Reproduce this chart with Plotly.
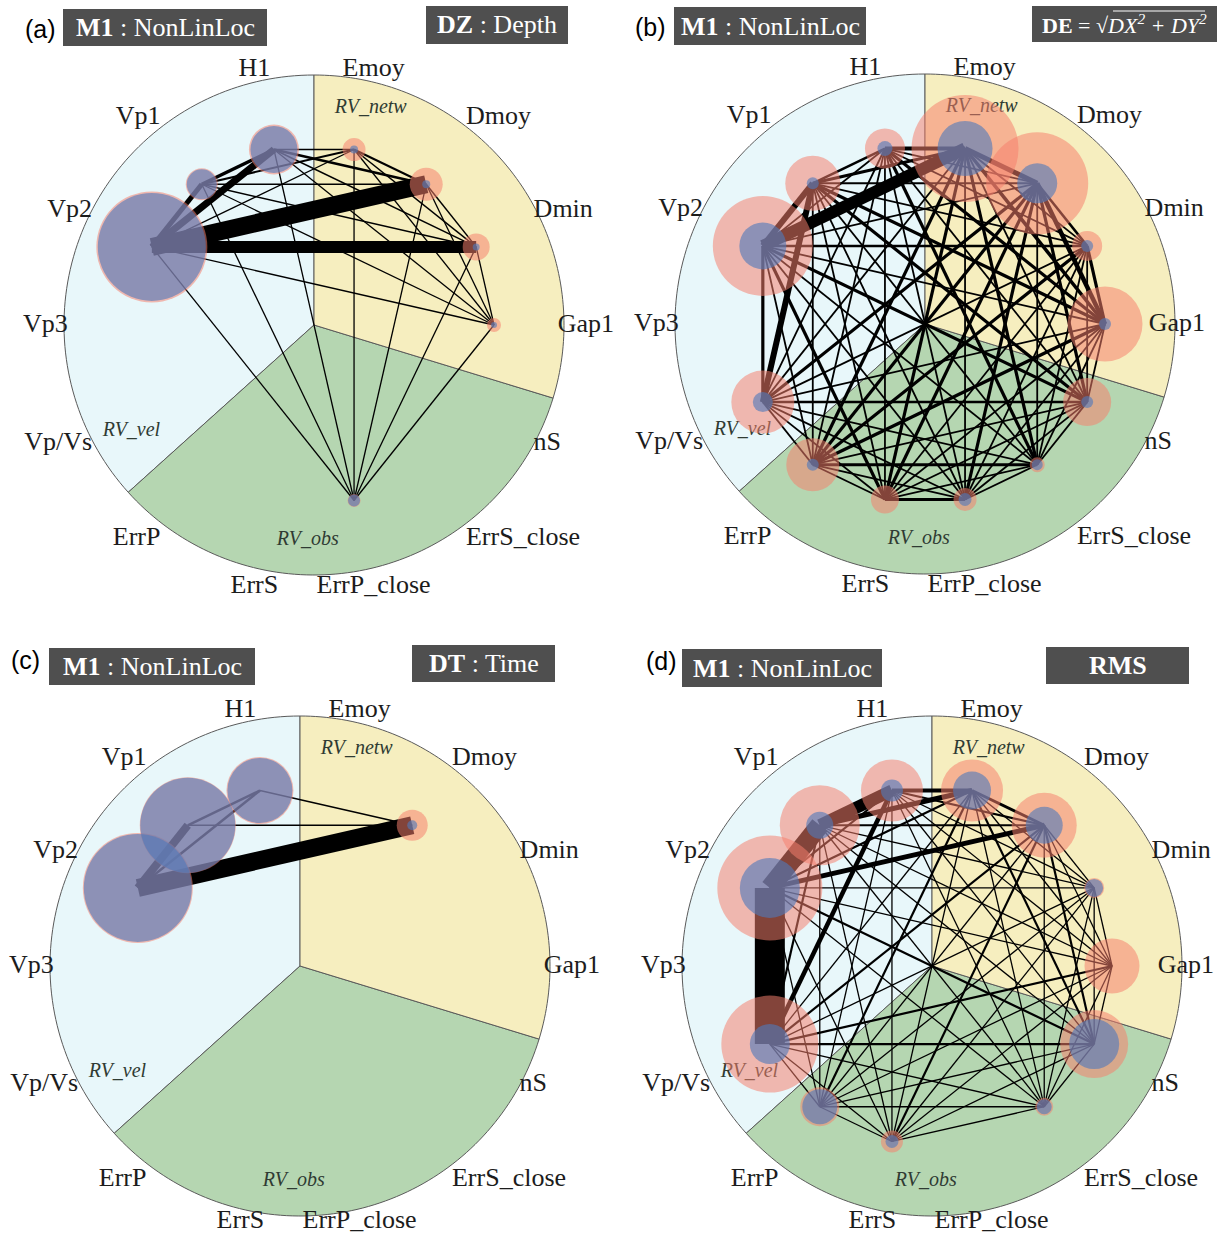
import numpy as np
import plotly.graph_objects as go

W, H = 1229, 1236
S = 250.0          # pixels per unit radius of the big circle
NODE_R = 0.72      # radius (in units) of the node ring

# ---------------- data ----------------
variables = ["H1", "Emoy", "Dmoy", "Dmin", "Gap1", "nS", "ErrS_close",
             "ErrP_close", "ErrS", "ErrP", "Vp/Vs", "Vp3", "Vp2", "Vp1"]
var_group = ["RV_vel", "RV_netw", "RV_netw", "RV_netw", "RV_netw", "RV_obs", "RV_obs",
             "RV_obs", "RV_obs", "RV_obs", "RV_vel", "RV_vel", "RV_vel", "RV_vel"]
groups = ["RV_vel", "RV_obs", "RV_netw"]

model_label = "<b>M1</b> : NonLinLoc"
panel_letters = ["(a)", "(b)", "(c)", "(d)"]
metric_labels = ["<b>DZ</b> : Depth",
                 "<b>DE</b> = √<i>DX<sup>2</sup> + DY<sup>2</sup></i>",
                 "<b>DT</b> : Time",
                 "<b>RMS</b>"]

# node bubble diameters (px), same order as `variables`
#            H1  Emoy Dmoy Dmin Gap1 nS ErrSc ErrPc ErrS ErrP VpVs Vp3 Vp2 Vp1
blue_a = [47,   8,   8,   7,   6,   0,  0,   12,   0,   0,   0,  0, 108, 30]
red_a  = [50,  23,  33,  27,  14,   0,  0,   13,   0,   0,   0,  0, 111, 32]
blue_b = [15,  55,  40,  12,  12,  12, 11,   13,   0,  12,  20,  0,  47, 12]
red_b  = [40, 107, 102,  30,  75,  48, 15,   23,  28,  53,  63,  0, 100, 55]
blue_c = [65,   0,  10,   0,   0,   0,  0,    0,   0,   0,   0,  0, 108, 95]
red_c  = [67,   0,  31,   0,   0,   0,  0,    0,   0,   0,   0,  0, 110, 96]
blue_d = [22,  38,  37,  18,   0,  50, 15,    0,  13,  35,  40,  0,  60, 27]
red_d  = [62,  62,  65,  20,  55,  68, 18,    0,  22,  39,  97,  0, 105, 80]

# edges: (node, node, line width px)
edges_a = [
    ("Vp2", "Dmoy", 18), ("Vp2", "Dmin", 12), ("Vp2", "H1", 7), ("Vp2", "Vp1", 5),
    ("Vp1", "H1", 3.5),
    ("Vp2", "Emoy", 1.3), ("Vp2", "Gap1", 1.3), ("Vp2", "ErrP_close", 1.3),
    ("Vp1", "Emoy", 2), ("Vp1", "Dmoy", 1.5), ("Vp1", "Dmin", 1.5), ("Vp1", "Gap1", 1.3),
    ("Vp1", "ErrP_close", 1.3),
    ("H1", "Emoy", 1.5), ("H1", "Dmoy", 2.5), ("H1", "Dmin", 1.5), ("H1", "Gap1", 1.3),
    ("H1", "ErrP_close", 1.3),
    ("Emoy", "Dmoy", 2), ("Emoy", "Dmin", 1.5), ("Emoy", "Gap1", 1.3), ("Emoy", "ErrP_close", 1.3),
    ("Dmoy", "Dmin", 1.5), ("Dmoy", "Gap1", 1.3), ("Dmoy", "ErrP_close", 1.3),
    ("Dmin", "Gap1", 1.3), ("Dmin", "ErrP_close", 1.3),
    ("Gap1", "ErrP_close", 1.3),
]

edges_b = [
    ("H1", "Emoy", 4), ("H1", "Dmoy", 1.8), ("H1", "Dmin", 1.8), ("H1", "Gap1", 3.2),
    ("H1", "nS", 1.8), ("H1", "ErrS_close", 3.2), ("H1", "ErrP_close", 1.8), ("H1", "ErrS", 1.8),
    ("H1", "ErrP", 1.8), ("H1", "Vp/Vs", 1.8), ("H1", "Vp2", 1.8), ("H1", "Vp1", 2.5),
    ("Emoy", "Dmoy", 5), ("Emoy", "Dmin", 1.8), ("Emoy", "Gap1", 3.5), ("Emoy", "nS", 1.8),
    ("Emoy", "ErrS_close", 3.2), ("Emoy", "ErrP_close", 1.8), ("Emoy", "ErrS", 3.2), ("Emoy", "ErrP", 3.2),
    ("Emoy", "Vp/Vs", 1.8), ("Emoy", "Vp2", 12), ("Emoy", "Vp1", 3.2),
    ("Dmoy", "Dmin", 2.5), ("Dmoy", "Gap1", 4.5), ("Dmoy", "nS", 3.2), ("Dmoy", "ErrS_close", 1.8),
    ("Dmoy", "ErrP_close", 3.2), ("Dmoy", "ErrS", 3.2), ("Dmoy", "ErrP", 3.2), ("Dmoy", "Vp/Vs", 3.2),
    ("Dmoy", "Vp2", 1.8), ("Dmoy", "Vp1", 1.8),
    ("Dmin", "Gap1", 3.2), ("Dmin", "nS", 1.8), ("Dmin", "ErrS_close", 1.8), ("Dmin", "ErrP_close", 1.8),
    ("Dmin", "ErrS", 1.8), ("Dmin", "ErrP", 3.2), ("Dmin", "Vp/Vs", 1.8), ("Dmin", "Vp2", 2.5),
    ("Dmin", "Vp1", 1.8),
    ("Gap1", "nS", 1.8), ("Gap1", "ErrS_close", 1.8), ("Gap1", "ErrP_close", 1.8), ("Gap1", "ErrS", 1.8),
    ("Gap1", "ErrP", 3.2), ("Gap1", "Vp/Vs", 1.8), ("Gap1", "Vp2", 1.8), ("Gap1", "Vp1", 3.2),
    ("nS", "ErrS_close", 1.8), ("nS", "ErrP_close", 1.8), ("nS", "ErrS", 1.8), ("nS", "ErrP", 1.8),
    ("nS", "Vp/Vs", 2.5), ("nS", "Vp2", 3.2), ("nS", "Vp1", 3.2),
    ("ErrS_close", "ErrP_close", 1.8), ("ErrS_close", "ErrS", 1.8), ("ErrS_close", "ErrP", 3.2),
    ("ErrS_close", "Vp/Vs", 1.8), ("ErrS_close", "Vp2", 1.8), ("ErrS_close", "Vp1", 1.8),
    ("ErrP_close", "ErrS", 3.2), ("ErrP_close", "ErrP", 1.8), ("ErrP_close", "Vp/Vs", 1.8),
    ("ErrP_close", "Vp2", 1.8), ("ErrP_close", "Vp1", 1.8),
    ("ErrS", "ErrP", 1.8), ("ErrS", "Vp/Vs", 1.8), ("ErrS", "Vp2", 3.2), ("ErrS", "Vp1", 1.8),
    ("ErrP", "Vp/Vs", 1.8), ("ErrP", "Vp2", 1.8), ("ErrP", "Vp1", 1.8),
    ("Vp/Vs", "Vp2", 3.2), ("Vp/Vs", "Vp1", 6),
    ("Vp2", "Vp1", 6),
]

edges_c = [
    ("Vp2", "Dmoy", 18), ("Vp2", "Vp1", 8), ("Vp1", "H1", 2.5), ("Vp2", "H1", 2.5),
    ("Vp1", "Dmoy", 1.5), ("H1", "Dmoy", 1.5),
]

edges_d = [
    ("H1", "Emoy", 4), ("H1", "Dmoy", 2.2), ("H1", "Dmin", 1.3), ("H1", "Gap1", 1.3),
    ("H1", "nS", 1.3), ("H1", "ErrS_close", 1.3), ("H1", "ErrS", 1.3), ("H1", "ErrP", 1.3),
    ("H1", "Vp/Vs", 4.5), ("H1", "Vp2", 2.2), ("H1", "Vp1", 12),
    ("Emoy", "Dmoy", 3), ("Emoy", "Dmin", 1.3), ("Emoy", "Gap1", 1.3), ("Emoy", "nS", 2.2),
    ("Emoy", "ErrS_close", 1.3), ("Emoy", "ErrS", 1.3), ("Emoy", "ErrP", 2.2), ("Emoy", "Vp/Vs", 1.3),
    ("Emoy", "Vp2", 2.2), ("Emoy", "Vp1", 5),
    ("Dmoy", "Dmin", 1.3), ("Dmoy", "Gap1", 1.3), ("Dmoy", "nS", 2.2), ("Dmoy", "ErrS_close", 1.3),
    ("Dmoy", "ErrS", 2.2), ("Dmoy", "ErrP", 1.3), ("Dmoy", "Vp/Vs", 2.2), ("Dmoy", "Vp2", 5),
    ("Dmoy", "Vp1", 2.2),
    ("Dmin", "Gap1", 1.3), ("Dmin", "nS", 1.3), ("Dmin", "ErrS_close", 1.3), ("Dmin", "ErrS", 1.3),
    ("Dmin", "ErrP", 1.3), ("Dmin", "Vp/Vs", 1.3), ("Dmin", "Vp2", 1.3), ("Dmin", "Vp1", 1.3),
    ("Gap1", "nS", 1.3), ("Gap1", "ErrS_close", 1.3), ("Gap1", "ErrS", 1.3), ("Gap1", "ErrP", 1.3),
    ("Gap1", "Vp/Vs", 2.2), ("Gap1", "Vp2", 1.3), ("Gap1", "Vp1", 1.3),
    ("nS", "ErrS_close", 1.3), ("nS", "ErrS", 1.3), ("nS", "ErrP", 1.3), ("nS", "Vp/Vs", 2.2),
    ("nS", "Vp2", 2.2), ("nS", "Vp1", 1.3),
    ("ErrS_close", "ErrS", 1.3), ("ErrS_close", "ErrP", 1.3), ("ErrS_close", "Vp/Vs", 1.3),
    ("ErrS_close", "Vp2", 1.3), ("ErrS_close", "Vp1", 1.3),
    ("ErrS", "ErrP", 1.3), ("ErrS", "Vp/Vs", 1.3), ("ErrS", "Vp2", 1.3), ("ErrS", "Vp1", 1.3),
    ("ErrP", "Vp/Vs", 1.3), ("ErrP", "Vp2", 1.3), ("ErrP", "Vp1", 1.3),
    ("Vp/Vs", "Vp2", 30), ("Vp/Vs", "Vp1", 2.2),
    ("Vp2", "Vp1", 19),
]

# ---------------- styling / layout ----------------
group_colors = {"RV_vel": "#e8f7fa", "RV_obs": "#b5d6b1", "RV_netw": "#f6eebf"}
group_arcs = {"RV_vel": (90, 222), "RV_obs": (222, 343), "RV_netw": (343, 450)}
group_label_xy = {"RV_vel": (-0.73, -0.424), "RV_obs": (-0.025, -0.86), "RV_netw": (0.227, 0.87)}

RED = "rgba(246,128,108,0.76)"
BLUE = "rgba(80,122,186,0.88)"
SERIF = "Liberation Serif"

panels = [
    dict(blue=blue_a, red=red_a, edges=edges_a, center=(314, 325), region=(0, 614, 0, 618),
         lbox=(63, 267, 9, 46), rbox=(426, 568, 6, 44), letter_xy=(40, 29), label_dx={}, bottom_dy=0),
    dict(blue=blue_b, red=red_b, edges=edges_b, center=(925, 324), region=(614, 1229, 0, 618),
         lbox=(674, 866, 7, 45), rbox=(1032, 1217, 6, 42), letter_xy=(650, 27), label_dx={"Gap1": -20},
         bottom_dy=0),
    dict(blue=blue_c, red=red_c, edges=edges_c, center=(300, 966), region=(0, 614, 618, 1236),
         lbox=(49, 255, 648, 685), rbox=(412, 555, 645, 682), letter_xy=(25, 660), label_dx={},
         bottom_dy=6),
    dict(blue=blue_d, red=red_d, edges=edges_d, center=(932, 966), region=(614, 1229, 618, 1236),
         lbox=(682, 882, 649, 687), rbox=(1046, 1189, 647, 684), letter_xy=(661, 661), label_dx={"Gap1": -18},
         bottom_dy=6),
]

step = 360.0 / len(variables)
theta = {v: np.deg2rad(102.857 - k * step) for k, v in enumerate(variables)}
node_xy = {v: (NODE_R * np.cos(t), NODE_R * np.sin(t)) for v, t in theta.items()}


def label_geom(t):
    c, s = np.cos(t), np.sin(t)
    if c > 0.3:
        return 0.975 * c, (1.06 if s >= 0 else 1.09) * s, "middle right"
    if c < -0.3:
        return 0.985 * c, (1.06 if s >= 0 else 1.09) * s, "middle left"
    if s > 0:
        return c + 0.016 * np.sign(c), 0.995 * s, "top center"
    return c + 0.016 * np.sign(c), 1.02 * s, "bottom center"


fig = go.Figure()
shapes, annotations = [], []
layout_axes = {}

for i, p in enumerate(panels):
    n = "" if i == 0 else str(i + 1)
    xa, ya = "x" + n, "y" + n
    cx, cy = p["center"]
    x0, x1, y0, y1 = p["region"]
    layout_axes["xaxis" + n] = dict(domain=[x0 / W, x1 / W], range=[(x0 - cx) / S, (x1 - cx) / S],
                                    visible=False, fixedrange=True)
    layout_axes["yaxis" + n] = dict(domain=[1 - y1 / H, 1 - y0 / H], range=[(cy - y1) / S, (cy - y0) / S],
                                    visible=False, fixedrange=True)

    # sectors
    for g in groups:
        a0, a1 = group_arcs[g]
        ang = np.deg2rad(np.linspace(a0, a1, 90))
        path = "M 0,0 " + " ".join(f"L {np.cos(a):.5f},{np.sin(a):.5f}" for a in ang) + " Z"
        shapes.append(dict(type="path", path=path, xref=xa, yref=ya, layer="below",
                           fillcolor=group_colors[g], line=dict(color="#5a5a5a", width=1)))

    # group labels (under the bubbles)
    fig.add_trace(go.Scatter(
        x=[group_label_xy[g][0] for g in groups], y=[group_label_xy[g][1] for g in groups],
        mode="text", text=[f"<i>{g}</i>" for g in groups],
        textfont=dict(family=SERIF, size=20, color="#2f3b33"),
        xaxis=xa, yaxis=ya, hoverinfo="skip", showlegend=False, cliponaxis=False))

    # variable labels
    geo = [label_geom(theta[v]) for v in variables]
    lx = [g_[0] + p["label_dx"].get(v, 0) / S for g_, v in zip(geo, variables)]
    ly = [g_[1] + (p["bottom_dy"] / S if g_[2] == "bottom center" else 0) for g_ in geo]
    lp = [g_[2] for g_ in geo]
    fig.add_trace(go.Scatter(
        x=lx, y=ly, mode="text", text=variables, textposition=lp,
        textfont=dict(family=SERIF, size=26, color="#1c1c1c"),
        xaxis=xa, yaxis=ya, hoverinfo="skip", showlegend=False, cliponaxis=False))

    # edges
    for u, v, w in p["edges"]:
        fig.add_trace(go.Scatter(
            x=[node_xy[u][0], node_xy[v][0]], y=[node_xy[u][1], node_xy[v][1]],
            mode="lines", line=dict(color="black", width=w),
            xaxis=xa, yaxis=ya, hoverinfo="skip", showlegend=False, cliponaxis=False))

    # bubbles: red (outer) then blue (inner)
    for sizes, col in ((p["red"], RED), (p["blue"], BLUE)):
        keep = [k for k, s_ in enumerate(sizes) if s_ > 0]
        fig.add_trace(go.Scatter(
            x=[node_xy[variables[k]][0] for k in keep], y=[node_xy[variables[k]][1] for k in keep],
            mode="markers", marker=dict(size=[sizes[k] for k in keep], color=col, line=dict(width=0)),
            xaxis=xa, yaxis=ya, hoverinfo="skip", showlegend=False, cliponaxis=False))

    # header boxes
    for box, txt, fs in ((p["lbox"], model_label, 26), (p["rbox"], metric_labels[i], 26 if i != 1 else 22)):
        bx0, bx1, by0, by1 = box
        shapes.append(dict(type="rect", xref="paper", yref="paper",
                           x0=bx0 / W, x1=bx1 / W, y0=1 - by1 / H, y1=1 - by0 / H,
                           fillcolor="#4f4f4f", line=dict(width=0), layer="above"))
        annotations.append(dict(x=(bx0 + bx1) / 2 / W, y=1 - (by0 + by1) / 2 / H, xref="paper", yref="paper",
                                text=txt, showarrow=False, xanchor="center", yanchor="middle",
                                font=dict(family=SERIF, size=fs, color="white")))
    lx_, ly_ = p["letter_xy"]
    annotations.append(dict(x=lx_ / W, y=1 - ly_ / H, xref="paper", yref="paper", text=panel_letters[i],
                            showarrow=False, xanchor="center", yanchor="middle",
                            font=dict(family="Liberation Sans", size=25, color="black")))

# vinculum of the square root in panel (b)
shapes.append(dict(type="line", xref="paper", yref="paper", x0=1113 / W, x1=1205 / W,
                   y0=1 - 11 / H, y1=1 - 11 / H, line=dict(color="white", width=1), layer="above"))

fig.update_layout(width=W, height=H, margin=dict(l=0, r=0, t=0, b=0),
                  paper_bgcolor="white", plot_bgcolor="rgba(0,0,0,0)",
                  shapes=shapes, annotations=annotations, showlegend=False, **layout_axes)

fig.write_html("out.html", config={"displayModeBar": False},
               post_script="document.body.style.margin='0';")
